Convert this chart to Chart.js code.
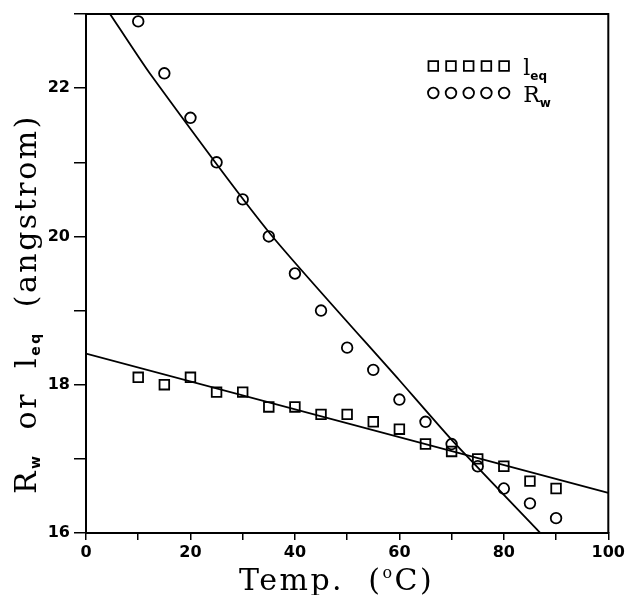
<!DOCTYPE html>
<html>
<head>
<meta charset="utf-8">
<script src="https://cdn.jsdelivr.net/npm/chart.js@4.4.1/dist/chart.umd.min.js"></script>
<style>
  html, body { margin: 0; padding: 0; background: #fff; }
  canvas { display: block; }
</style>
</head>
<body>
<canvas id="myChart" width="628" height="595"></canvas>
<script>
// measured temperatures (°C)
const temps = [10, 15, 20, 25, 30, 35, 40, 45, 50, 55, 60, 65, 70, 75, 80, 85, 90];
// l_eq (squares) and R_w (circles), angstrom
const leqValues = [18.1, 18.0, 18.1, 17.9, 17.9, 17.7, 17.7, 17.6, 17.6, 17.5, 17.4, 17.2, 17.1, 17.0, 16.9, 16.7, 16.6];
const rwValues = [22.9, 22.2, 21.6, 21.0, 20.5, 20.0, 19.5, 19.0, 18.5, 18.2, 17.8, 17.5, 17.2, 16.9, 16.6, 16.4, 16.2];

// fitted curves
const leqFitTemps = [0, 100];
const leqFitValues = [18.42, 16.54];
const rwFitTemps = [4.6, 12.2, 35.1, 60, 70.1, 87.0];
const rwFitValues = [23.0, 22.2, 20.05, 18.06, 17.25, 16.0];

// axis ticks
const xTicks = [0, 20, 40, 60, 80, 100];
const yTicks = [16, 18, 20, 22];

const pts = (xs, ys) => xs.map((x, i) => ({ x: x, y: ys[i] }));

const serif = '30px "DejaVu Serif"';
const subFont = 'bold 14px "DejaVu Sans"';

// draws a row of text pieces, each with its own font and baseline shift
function drawRuns(ctx, runs, x, y) {
  for (const r of runs) {
    ctx.font = r.font;
    ctx.fillText(r.text, x, y + (r.dy || 0));
    x += ctx.measureText(r.text).width;
  }
  return x;
}

const decorations = {
  id: 'decorations',
  afterDraw(chart) {
    const ctx = chart.ctx;
    const area = chart.chartArea;
    ctx.save();
    // top and right sides of the frame
    ctx.strokeStyle = '#000';
    ctx.lineWidth = 2;
    ctx.beginPath();
    ctx.moveTo(area.left, area.top);
    ctx.lineTo(area.right, area.top);
    ctx.lineTo(area.right, area.bottom);
    ctx.stroke();

    ctx.fillStyle = '#000';
    ctx.textAlign = 'left';
    ctx.textBaseline = 'alphabetic';
    ctx.letterSpacing = '2.5px';

    // x title
    drawRuns(ctx, [
      { text: 'Temp.  (', font: serif },
      { text: 'o', font: '16px "DejaVu Serif"', dy: -12 },
      { text: 'C)', font: serif }
    ], 239, 590);

    // y title, rotated
    ctx.save();
    ctx.translate(36, 494);
    ctx.rotate(-Math.PI / 2);
    drawRuns(ctx, [
      { text: 'R', font: serif },
      { text: 'w', font: subFont, dy: 4 },
      { text: '  or  l', font: serif },
      { text: 'eq', font: subFont, dy: 4 },
      { text: '  (angstrom)', font: serif }
    ], 0, 0);
    ctx.restore();

    // legend: five open markers per row
    ctx.letterSpacing = '0px';
    const lx = area.right - 175;
    const rows = [
      { style: 'rect', radius: 6.8, y: area.top + 52, label: 'l', sub: 'eq' },
      { style: 'circle', radius: 5.3, y: area.top + 79, label: 'R', sub: 'w' }
    ];
    for (const row of rows) {
      ctx.fillStyle = 'rgba(0,0,0,0)';
      ctx.strokeStyle = '#000';
      ctx.lineWidth = 1.8;
      for (let i = 0; i < 5; i++) {
        Chart.helpers.drawPoint(ctx, {
          pointStyle: row.style, radius: row.radius, borderWidth: 1.8
        }, lx + i * 17.7, row.y);
      }
      ctx.fillStyle = '#000';
      drawRuns(ctx, [
        { text: row.label, font: '22px "DejaVu Serif"' },
        { text: row.sub, font: 'bold 12px "DejaVu Sans"', dy: 5 }
      ], lx + 90, row.y + 9);
    }
    ctx.restore();
  }
};

const tickFont = { family: '"DejaVu Sans"', size: 16, weight: 'bold' };

new Chart(document.getElementById('myChart').getContext('2d'), {
  type: 'scatter',
  data: {
    datasets: [
      {
        label: 'leq fit',
        data: pts(leqFitTemps, leqFitValues),
        showLine: true,
        borderColor: '#000',
        borderWidth: 1.8,
        pointRadius: 0
      },
      {
        label: 'Rw fit',
        data: pts(rwFitTemps, rwFitValues),
        showLine: true,
        tension: 0.2,
        borderColor: '#000',
        borderWidth: 1.8,
        pointRadius: 0
      },
      {
        label: 'leq',
        data: pts(temps, leqValues),
        pointStyle: 'rect',
        pointRadius: 6.8,
        borderColor: '#000',
        backgroundColor: 'rgba(0,0,0,0)',
        borderWidth: 1.8
      },
      {
        label: 'Rw',
        data: pts(temps, rwValues),
        pointStyle: 'circle',
        pointRadius: 5.3,
        borderColor: '#000',
        backgroundColor: 'rgba(0,0,0,0)',
        borderWidth: 1.8
      }
    ]
  },
  options: {
    responsive: false,
    animation: false,
    events: [],
    layout: { padding: { top: 14, right: 18, left: 0, bottom: 0 } },
    plugins: { legend: { display: false }, tooltip: { enabled: false } },
    scales: {
      x: {
        type: 'linear',
        min: 0,
        max: 100,
        ticks: {
          stepSize: 10,
          autoSkip: false,
          maxRotation: 0,
          padding: 3,
          color: '#000',
          font: tickFont,
          callback: v => xTicks.includes(v) ? String(v) : ''
        },
        grid: { drawOnChartArea: false, tickLength: 7, color: '#000', lineWidth: 1.5 },
        border: { color: '#000', width: 2 },
        afterFit(scale) { scale.height = 62; }
      },
      y: {
        min: 16,
        max: 23,
        ticks: {
          stepSize: 1,
          autoSkip: false,
          padding: 4,
          color: '#000',
          font: tickFont,
          callback: v => yTicks.includes(v) ? String(v) : ''
        },
        grid: { drawOnChartArea: false, tickLength: 12, color: '#000', lineWidth: 1.5 },
        border: { color: '#000', width: 2 },
        afterFit(scale) { scale.width = 86; }
      }
    }
  },
  plugins: [decorations]
});
</script>
</body>
</html>
